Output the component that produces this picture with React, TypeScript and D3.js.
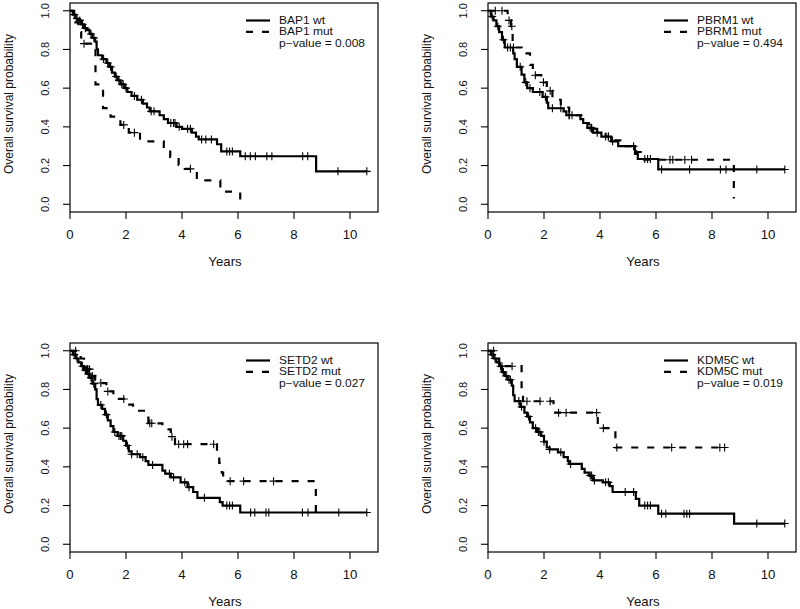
import React from 'react';
import * as d3 from 'd3';

const xTicks = [0, 2, 4, 6, 8, 10];
const yTicks = [0, 0.2, 0.4, 0.6, 0.8, 1.0];
const genes = ['BAP1', 'PBRM1', 'SETD2', 'KDM5C'];
const pValues = ['0.008', '0.494', '0.027', '0.019'];

// BAP1
const bap1WtTime = [0.1, 0.2, 0.3, 0.4, 0.5, 0.6, 0.7, 0.8, 0.9, 0.95, 1.0, 1.15, 1.3, 1.4, 1.5, 1.6, 1.7, 1.8, 1.95, 2.05, 2.2, 2.4, 2.6, 2.75, 2.85, 3.2, 3.35, 3.5, 3.8, 4.0, 4.35, 4.5, 4.6, 5.25, 5.4, 6.08, 8.79];
const bap1WtSurv = [0.98, 0.96, 0.95, 0.93, 0.91, 0.9, 0.88, 0.86, 0.84, 0.8, 0.77, 0.75, 0.73, 0.71, 0.68, 0.66, 0.64, 0.62, 0.6, 0.58, 0.56, 0.54, 0.52, 0.5, 0.48, 0.46, 0.44, 0.42, 0.4, 0.39, 0.37, 0.35, 0.335, 0.31, 0.273, 0.248, 0.17];
const bap1WtCens = [0.15, 0.25, 0.35, 0.45, 0.55, 0.75, 0.85, 1.2, 1.35, 1.45, 1.65, 1.75, 1.85, 1.9, 2.0, 2.3, 2.55, 2.9, 3.0, 3.6, 3.7, 3.75, 3.9, 4.2, 4.3, 4.7, 4.85, 5.05, 5.6, 5.7, 5.8, 6.26, 6.44, 6.62, 7.03, 7.21, 8.31, 8.49, 9.57, 10.6];
const bap1MutTime = [0.15, 0.3, 0.4, 0.91, 1.18, 1.45, 1.8, 2.1, 2.5, 3.35, 3.58, 3.88, 4.1, 4.53, 5.37, 6.08];
const bap1MutSurv = [0.94, 0.89, 0.83, 0.62, 0.497, 0.453, 0.41, 0.37, 0.325, 0.29, 0.245, 0.204, 0.183, 0.123, 0.065, 0.0];
const bap1MutCens = [0.5, 1.92, 2.3, 4.3];

// PBRM1
const pbrm1WtTime = [0.1, 0.2, 0.3, 0.4, 0.5, 0.6, 0.9, 0.95, 1.03, 1.2, 1.3, 1.4, 1.6, 1.95, 2.1, 2.15, 2.7, 2.8, 3.3, 3.4, 3.55, 3.75, 4.05, 4.4, 4.65, 5.25, 5.35, 6.08];
const pbrm1WtSurv = [0.97, 0.95, 0.92, 0.89, 0.85, 0.81, 0.78, 0.75, 0.71, 0.67, 0.63, 0.6, 0.58, 0.555, 0.525, 0.496, 0.48, 0.46, 0.44, 0.42, 0.395, 0.37, 0.35, 0.325, 0.3, 0.26, 0.234, 0.18];
const pbrm1WtCens = [0.15, 0.35, 0.55, 0.7, 0.8, 1.15, 1.35, 1.5, 1.85, 2.05, 2.3, 2.6, 2.9, 3.0, 3.65, 3.7, 3.9, 4.2, 4.3, 4.45, 5.6, 5.7, 5.8, 6.2, 7.2, 8.3, 8.5, 9.6, 10.6];
const pbrm1MutTime = [0.7, 0.82, 0.88, 1.2, 1.5, 1.6, 1.9, 2.1, 2.3, 2.6, 2.9, 3.4, 3.6, 3.9, 4.2, 4.5, 4.8, 5.3, 5.5, 8.78];
const pbrm1MutSurv = [0.95, 0.92, 0.81, 0.78, 0.72, 0.667, 0.63, 0.586, 0.54, 0.5, 0.46, 0.42, 0.39, 0.37, 0.35, 0.33, 0.3, 0.27, 0.23, 0.03];
const pbrm1MutCens = [0.26, 0.5, 0.75, 0.85, 0.91, 1.69, 1.98, 2.22, 2.9, 3.7, 4.3, 5.2, 6.5, 6.6, 7.03, 7.27];

// SETD2
const setd2WtTime = [0.1, 0.2, 0.3, 0.4, 0.5, 0.6, 0.7, 0.8, 0.9, 0.95, 1.0, 1.15, 1.25, 1.35, 1.45, 1.55, 1.7, 1.9, 2.0, 2.1, 2.2, 2.5, 2.7, 2.8, 3.3, 3.4, 3.6, 3.95, 4.2, 4.4, 4.55, 5.35, 5.45, 6.08];
const setd2WtSurv = [0.98, 0.96, 0.94, 0.92, 0.9, 0.88, 0.86, 0.83, 0.8, 0.75, 0.72, 0.7, 0.67, 0.64, 0.61, 0.58, 0.56, 0.535, 0.51, 0.48, 0.465, 0.45, 0.43, 0.41, 0.38, 0.365, 0.346, 0.32, 0.295, 0.27, 0.24, 0.218, 0.2, 0.164];
const setd2WtCens = [0.15, 0.25, 0.45, 0.55, 0.65, 0.75, 0.85, 1.1, 1.3, 1.6, 1.75, 1.8, 1.85, 2.05, 2.2, 2.4, 2.6, 2.95, 3.55, 3.7, 4.1, 4.25, 4.8, 5.6, 5.7, 5.8, 6.45, 6.6, 7.0, 7.1, 8.3, 8.5, 9.6, 10.6];
const setd2MutTime = [0.38, 0.5, 0.6, 0.75, 0.9, 1.0, 1.3, 1.55, 2.0, 2.25, 2.75, 2.8, 3.3, 3.6, 3.75, 5.25, 5.33, 5.42, 5.47, 8.78];
const setd2MutSurv = [0.96, 0.92, 0.905, 0.87, 0.85, 0.833, 0.79, 0.751, 0.722, 0.69, 0.655, 0.625, 0.594, 0.556, 0.517, 0.47, 0.42, 0.37, 0.326, 0.163];
const setd2MutCens = [0.2, 0.64, 0.7, 0.8, 1.1, 1.35, 1.92, 2.85, 2.92, 3.64, 3.88, 4.06, 4.2, 5.13, 5.72, 6.2, 7.27];

// KDM5C
const kdm5cWtTime = [0.1, 0.2, 0.3, 0.4, 0.5, 0.6, 0.7, 0.85, 0.9, 0.95, 1.15, 1.3, 1.4, 1.5, 1.6, 1.75, 1.9, 2.0, 2.1, 2.2, 2.5, 2.7, 2.85, 2.9, 3.35, 3.45, 3.6, 3.75, 4.1, 4.35, 4.45, 5.28, 5.4, 6.08, 8.79];
const kdm5cWtSurv = [0.98, 0.96, 0.94, 0.92, 0.89, 0.87, 0.85, 0.82, 0.77, 0.74, 0.71, 0.68, 0.66, 0.63, 0.6, 0.58, 0.56, 0.53, 0.5, 0.49, 0.475, 0.45, 0.43, 0.415, 0.39, 0.37, 0.355, 0.33, 0.32, 0.3, 0.27, 0.235, 0.2, 0.158, 0.107];
const kdm5cWtCens = [0.15, 0.25, 0.45, 0.55, 0.65, 0.75, 0.8, 1.1, 1.2, 1.45, 1.7, 1.8, 1.85, 2.0, 2.2, 2.6, 2.95, 3.65, 3.7, 3.8, 4.2, 4.3, 4.9, 5.2, 5.6, 5.7, 5.8, 6.2, 6.35, 7.0, 7.1, 7.2, 9.6, 10.6];
const kdm5cMutTime = [0.3, 0.4, 1.2, 1.25, 2.34, 3.92, 4.55];
const kdm5cMutSurv = [0.96, 0.92, 0.78, 0.739, 0.68, 0.6, 0.5];
const kdm5cMutCens = [0.2, 0.5, 0.86, 1.39, 1.86, 2.22, 2.52, 2.79, 3.88, 4.12, 4.6, 6.56, 8.28, 8.45];

const curves = [
  { wt: [bap1WtTime, bap1WtSurv, bap1WtCens], mut: [bap1MutTime, bap1MutSurv, bap1MutCens] },
  { wt: [pbrm1WtTime, pbrm1WtSurv, pbrm1WtCens], mut: [pbrm1MutTime, pbrm1MutSurv, pbrm1MutCens] },
  { wt: [setd2WtTime, setd2WtSurv, setd2WtCens], mut: [setd2MutTime, setd2MutSurv, setd2MutCens] },
  { wt: [kdm5cWtTime, kdm5cWtSurv, kdm5cWtCens], mut: [kdm5cMutTime, kdm5cMutSurv, kdm5cMutCens] },
];

const font = '"Liberation Sans", Arial, sans-serif';

function survAt(times: number[], surv: number[], t: number) {
  let s = 1;
  times.forEach((tt, i) => {
    if (tt <= t) s = surv[i];
  });
  return s;
}

function stepPoints(times: number[], surv: number[], cens: number[]) {
  const end = Math.max(times[times.length - 1], cens.length ? cens[cens.length - 1] : 0);
  const pts: [number, number][] = [[0, 1]];
  times.forEach((t, i) => pts.push([t, surv[i]]));
  pts.push([end, surv[surv.length - 1]]);
  return pts;
}

function Curve({ data, x, y, dash }: any) {
  const [times, surv, cens] = data;
  const line = d3.line<[number, number]>()
    .x(d => x(d[0]))
    .y(d => y(d[1]))
    .curve(d3.curveStepAfter);
  return (
    <g>
      <path d={line(stepPoints(times, surv, cens)) || ''} fill="none" stroke="#000"
        strokeWidth={2.2} strokeDasharray={dash ? '7 9' : undefined} />
      {cens.map((c: number, i: number) => {
        const cx = x(c);
        const cy = y(survAt(times, surv, c));
        return (
          <path key={i} d={`M${cx - 4},${cy}H${cx + 4}M${cx},${cy - 4}V${cy + 4}`}
            stroke="#000" strokeWidth={1.1} />
        );
      })}
    </g>
  );
}

function Panel({ ox, oy, idx }: any) {
  const x = d3.scaleLinear().domain([0, 11]).range([70, 378]);
  const y = d3.scaleLinear().domain([-0.04, 1.04]).range([212, 3]);
  const gene = genes[idx];
  const legendRows = [`${gene} wt`, `${gene} mut`, `p\u2212value = ${pValues[idx]}`];
  return (
    <g transform={`translate(${ox},${oy})`} fontFamily={font} fontSize={12} fill="#111">
      <rect x={70} y={3} width={308} height={209} fill="none" stroke="#000" strokeWidth={1.2} />
      {xTicks.map(t => (
        <g key={t}>
          <line x1={x(t)} x2={x(t)} y1={212} y2={219} stroke="#000" strokeWidth={1.1} />
          <text transform={`translate(${x(t)},238.5) scale(1.1,1)`} textAnchor="middle">{t}</text>
        </g>
      ))}
      {yTicks.map(t => (
        <g key={t}>
          <line x1={63} x2={70} y1={y(t)} y2={y(t)} stroke="#000" strokeWidth={1.1} />
          <text transform={`translate(49,${y(t)}) rotate(-90)`} textAnchor="middle" fontSize={11}>{t.toFixed(1)}</text>
        </g>
      ))}
      <text transform="translate(225,266) scale(1.1,1)" textAnchor="middle">Years</text>
      <text transform={`translate(13,104) rotate(-90)`} textAnchor="middle">Overall survival probability</text>
      <Curve data={curves[idx].wt} x={x} y={y} dash={false} />
      <Curve data={curves[idx].mut} x={x} y={y} dash={true} />
      <line x1={246} x2={270} y1={20.5} y2={20.5} stroke="#000" strokeWidth={2.2} />
      <line x1={246} x2={270} y1={31.8} y2={31.8} stroke="#000" strokeWidth={2.2} strokeDasharray="7 9" />
      {legendRows.map((s, i) => (
        <text key={i} transform={`translate(279,${24.1 + i * 11.3}) scale(1.2,1)`} fontSize={10}>{s}</text>
      ))}
    </g>
  );
}

export default function App() {
  return (
    <svg width={800} height={609} style={{ position: 'absolute', left: 0, top: 0, background: '#fff' }}>
      <Panel ox={0} oy={0} idx={0} />
      <Panel ox={418} oy={0} idx={1} />
      <Panel ox={0} oy={340} idx={2} />
      <Panel ox={418} oy={340} idx={3} />
    </svg>
  );
}
